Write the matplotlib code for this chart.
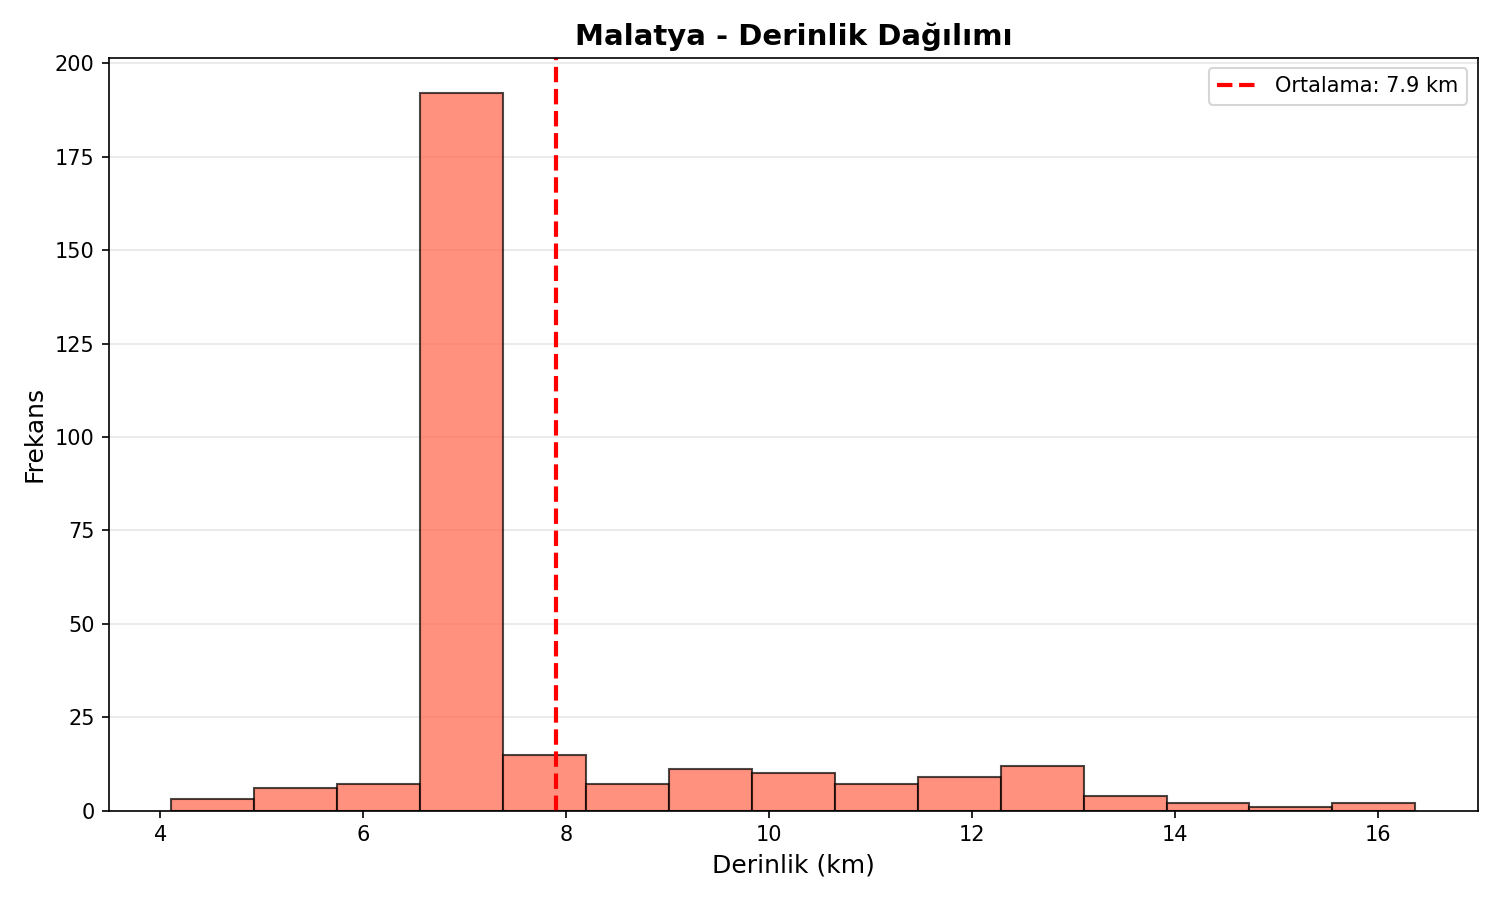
import numpy as np
import matplotlib
matplotlib.use("Agg")
import matplotlib.pyplot as plt

bin_start = 4.11
bin_end = 16.37
counts = [3, 6, 7, 192, 15, 7, 11, 10, 7, 9, 12, 4, 2, 1, 2]
mean_depth = 7.9

edges = np.linspace(bin_start, bin_end, len(counts) + 1)
centers = (edges[:-1] + edges[1:]) / 2

fig, ax = plt.subplots(figsize=(10, 6), dpi=150)
ax.hist(centers, bins=edges, weights=counts, color='tomato', alpha=0.7,
        edgecolor='black', linewidth=1.0)
ax.axvline(mean_depth, color='red', linestyle='--', linewidth=2,
           label=f'Ortalama: {mean_depth} km')
ax.set_title('Malatya - Derinlik Dağılımı', fontsize=14, fontweight='bold')
ax.set_xlabel('Derinlik (km)', fontsize=12)
ax.set_ylabel('Frekans', fontsize=12)
ax.grid(axis='y', alpha=0.3)
ax.set_axisbelow(True)
ax.legend()
fig.tight_layout()
fig.savefig('out.png')
